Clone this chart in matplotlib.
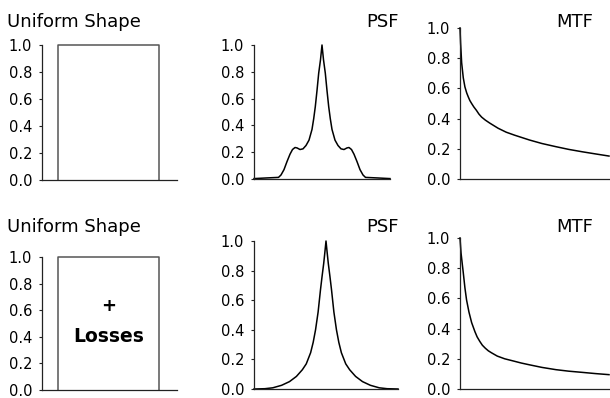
import matplotlib
matplotlib.use('Agg')
import matplotlib.pyplot as plt
import numpy as np

# ── Data ──────────────────────────────────────────────────
# uniform shape: box outline, x in pixels of a 0..135 axis
shape_x = [16, 16, 117, 117]
shape_y = [0.0, 1.0, 1.0, 0.0]

# PSF, top row: offset from centre -> value (symmetric)
psf1_d = [0, 1.5, 3.3, 5, 6.7, 8.3, 10, 13, 16, 19, 22, 25, 27, 29.5, 32, 35, 38,
          41, 43.5, 55, 68]
psf1_v = [1.0, 0.89, 0.79, 0.66, 0.54, 0.45, 0.37, 0.29, 0.25, 0.225, 0.22, 0.232,
          0.235, 0.22, 0.185, 0.13, 0.07, 0.03, 0.012, 0.008, 0.003]

# PSF, bottom row (with losses)
psf2_d = [0, 1.2, 2.3, 4, 5.6, 8, 10.6, 13, 15.6, 20, 24, 30, 37, 45, 54, 62, 73]
psf2_v = [1.0, 0.92, 0.85, 0.76, 0.67, 0.52, 0.40, 0.315, 0.245, 0.17, 0.13,
          0.085, 0.05, 0.025, 0.008, 0.002, 0.0]

# MTF curves: normalised frequency -> modulation
mtf1_f = [0.0, 0.004, 0.011, 0.022, 0.033, 0.045, 0.055, 0.066, 0.078, 0.093, 0.11,
          0.127, 0.145, 0.17, 0.2, 0.256, 0.31, 0.367, 0.467, 0.55, 0.644, 0.73,
          0.822, 0.91, 1.0]
mtf1_v = [1.0, 0.9, 0.77, 0.67, 0.61, 0.57, 0.545, 0.52, 0.50, 0.477, 0.455, 0.43,
          0.41, 0.39, 0.37, 0.336, 0.31, 0.29, 0.258, 0.235, 0.214, 0.196, 0.18,
          0.166, 0.152]

mtf2_f = [0.0, 0.007, 0.015, 0.022, 0.033, 0.044, 0.06, 0.078, 0.1, 0.115, 0.133,
          0.15, 0.17, 0.19, 0.211, 0.25, 0.3, 0.36, 0.411, 0.467, 0.55, 0.644,
          0.73, 0.822, 0.91, 1.0]
mtf2_v = [1.0, 0.9, 0.83, 0.77, 0.67, 0.59, 0.51, 0.44, 0.38, 0.345, 0.315, 0.29,
          0.27, 0.253, 0.24, 0.218, 0.2, 0.185, 0.172, 0.16, 0.143, 0.128, 0.118,
          0.11, 0.102, 0.095]

yticks = [0.0, 0.2, 0.4, 0.6, 0.8, 1.0]

# ── Figure ────────────────────────────────────────────────
W, H = 610, 398
plt.rcParams['font.family'] = ['DejaVu Sans']
fig = plt.figure(figsize=(W / 100, H / 100), dpi=100)


def px_axes(l, t, r, b):
    return fig.add_axes([l / W, 1 - b / H, (r - l) / W, (b - t) / H])


def style(ax):
    for s in ('top', 'right'):
        ax.spines[s].set_visible(False)
    for s in ('left', 'bottom'):
        ax.spines[s].set_linewidth(0.9)
        ax.spines[s].set_color('#222222')
    ax.set_ylim(0, 1.0)
    ax.set_yticks(yticks)
    ax.set_yticklabels([f'{v:.1f}' for v in yticks])
    ax.set_xticks([])
    ax.tick_params(axis='y', length=2, width=0.8, pad=5, labelsize=10.5,
                   color='#222222')
    ax.patch.set_alpha(0)


def psf_full(d, v):
    d = np.asarray(d); v = np.asarray(v)
    return np.concatenate([-d[::-1], d[1:]]), np.concatenate([v[::-1], v[1:]])


# top row
a1 = px_axes(42, 45, 177, 180)
a1.plot(shape_x, shape_y, color='#555555', lw=1.1, clip_on=False)
a1.set_xlim(0, 135)

a2 = px_axes(254, 45, 390, 179)
x, y = psf_full(psf1_d, psf1_v)
a2.plot(x, y, color='black', lw=1.1, clip_on=False)
a2.set_xlim(-68, 68)

a3 = px_axes(460, 28, 609, 179)
a3.plot(mtf1_f, mtf1_v, color='black', lw=1.1, clip_on=False)
a3.set_xlim(0, 1)

# bottom row
b1 = px_axes(42, 257, 177, 390)
b1.plot(shape_x, shape_y, color='#555555', lw=1.1, clip_on=False)
b1.set_xlim(0, 135)
b1.text(66.5, 0.63, '+', ha='center', va='center', fontsize=13, fontweight='bold')
b1.text(66.5, 0.40, 'Losses', ha='center', va='center', fontsize=13.5,
        fontweight='bold')

b2 = px_axes(254, 241, 398, 389)
x, y = psf_full(psf2_d, psf2_v)
b2.plot(x, y, color='black', lw=1.1, clip_on=False)
b2.set_xlim(-73, 73)

b3 = px_axes(460, 238, 609, 389)
b3.plot(mtf2_f, mtf2_v, color='black', lw=1.1, clip_on=False)
b3.set_xlim(0, 1)

for ax in (a1, a2, a3, b1, b2, b3):
    style(ax)

# panel titles
for yb in (27, 232):
    fig.text(7 / W, 1 - yb / H, 'Uniform Shape', ha='left', va='baseline', fontsize=13)
    fig.text(399 / W, 1 - yb / H, 'PSF', ha='right', va='baseline', fontsize=13)
    fig.text(593 / W, 1 - yb / H, 'MTF', ha='right', va='baseline', fontsize=13)

fig.savefig('out.png', dpi=100)
